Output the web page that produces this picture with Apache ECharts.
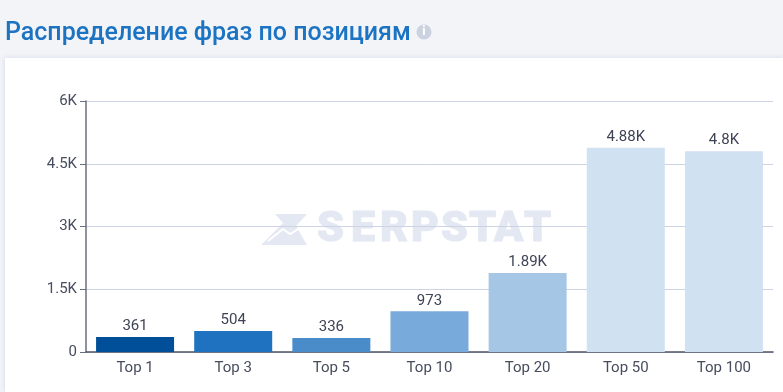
<!DOCTYPE html>
<html><head><meta charset="utf-8">
<style>html,body{margin:0;padding:0;background:#f3f4f8}#c{width:783px;height:392px}</style>
<script src="https://cdn.jsdelivr.net/npm/echarts@6/dist/echarts.min.js"></script>
</head><body><div id="c"></div>
<script>
const titleText = 'Распределение фраз по позициям';
const categories = ['Top 1','Top 3','Top 5','Top 10','Top 20','Top 50','Top 100'];
const values = [361,504,336,973,1890,4880,4800];
const barColors = ['#004f98','#1e72bf','#4a8cca','#78aadb','#a5c7e5','#d0e1f2','#d0e1f2'];
const yMax = 6000, yStep = 1500;
const watermarkLetters = ['S','E','R','P','S','T','A','T'];
const watermarkX = [317,351,380,411,441,469,494,524];
const fmt = v => v >= 1000 ? (v/1000) + 'K' : String(v);
const chart = echarts.init(document.getElementById('c'));
chart.setOption({
  animation:false,
  backgroundColor:'transparent',
  textStyle:{fontFamily:'Roboto'},
  title:{text:titleText,left:0,top:16,textStyle:{fontFamily:'Roboto',fontWeight:500,fontSize:25,color:'#1b73c2'}},
  grid:{left:86,right:10,top:101,bottom:40},
  xAxis:{type:'category',data:categories,
    axisLine:{lineStyle:{color:'#4f5465',width:1.5}},
    axisTick:{length:6,alignWithLabel:true,lineStyle:{color:'#7a7f8e'}},
    axisLabel:{color:'#474c5e',fontSize:15,margin:9}},
  yAxis:{type:'value',min:0,max:yMax,interval:yStep,
    axisLine:{show:true,lineStyle:{color:'#6b6f7c',width:1.5}},
    axisTick:{show:true,length:6,lineStyle:{color:'#6b6f7c'}},
    axisLabel:{color:'#474c5e',fontSize:15,margin:9,padding:[3,0,0,0],formatter:fmt},
    splitLine:{lineStyle:{color:'#ccd4e4',width:1}}},
  series:[{type:'bar',barWidth:78,
    data:values.map((v,i)=>({value:v,itemStyle:{color:barColors[i]}})),
    label:{show:true,position:'top',distance:3,color:'#3e4356',fontSize:15,formatter:p=>fmt(p.value)}}],
  graphic:[
    {type:'rect',z:-10,silent:true,shape:{x:5,y:58,width:778,height:334},
      style:{fill:'#fff',shadowBlur:5,shadowColor:'rgba(120,140,190,0.25)'}},
    {type:'circle',z:5,silent:true,shape:{cx:424,cy:32,r:7.5},style:{fill:'#ccd3e0'}},
    {type:'text',z:6,silent:true,x:424,y:32,style:{text:'i',fill:'#fff',fontFamily:'Roboto',fontWeight:900,fontSize:12,align:'center',verticalAlign:'middle'}},
    {type:'polygon',z:-5,silent:true,shape:{points:[[275,214],[307,214],[296,226],[307,245],[261,245],[278,228],[283,223]]},style:{fill:'#e3e8f2'}},
    {type:'polyline',z:-4,silent:true,shape:{points:[[268,241],[283,229],[290,234],[303,226]]},style:{stroke:'#fff',lineWidth:2,fill:'none'}},
    ...watermarkLetters.map((ch,i)=>({type:'text',z:-5,silent:true,x:watermarkX[i],y:230,style:{text:ch,fill:'#e3e8f2',stroke:'#e3e8f2',lineWidth:1,fontFamily:'Roboto',fontWeight:900,fontSize:43,align:'left',verticalAlign:'middle'}}))
  ]
});
</script></body></html>
